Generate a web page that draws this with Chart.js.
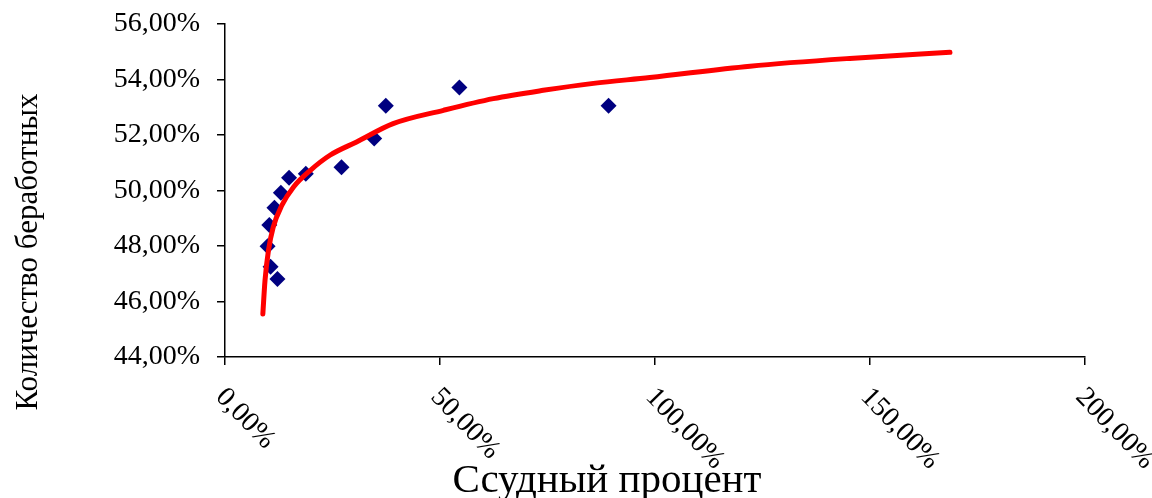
<!DOCTYPE html>
<html>
<head>
<meta charset="utf-8">
<script src="https://cdn.jsdelivr.net/npm/chart.js@4"></script>
<style>
  html, body { margin: 0; padding: 0; background: #fff; }
  #wrap { width: 1152px; height: 498px; }
</style>
</head>
<body>
<div id="wrap"><canvas id="chart"></canvas></div>
<script>
// Ссудный процент (x) и количество безработных (y), в процентах
const loanRate = [9.9, 10.3, 10.6, 11.5, 12.2, 13.0, 14.9, 18.8, 27.1, 34.7, 37.4, 54.5, 89.2];
const unemployed = [47.99, 48.76, 47.25, 49.38, 46.81, 49.92, 50.46, 50.60, 50.84, 51.87, 53.05, 53.71, 53.05];

// логарифмическая линия тренда
const trendX = [8.8, 9.3, 10.1, 11.2, 13.2, 15.9, 19.8, 24.4, 30.6, 39.1, 50.8, 62.4, 74.0, 85.7, 98.8, 122.1, 145.3, 168.6];
const trendY = [45.55, 46.75, 47.83, 48.67, 49.46, 50.12, 50.72, 51.27, 51.75, 52.41, 52.89, 53.31, 53.61, 53.86, 54.07, 54.48, 54.76, 54.98];

const xTicks = [0, 50, 100, 150, 200];
const yTicks = [44, 46, 48, 50, 52, 54, 56];

const xTitle = 'Ссудный процент';
const yTitle = 'Количество беработных';

const serif = '"Liberation Serif", "DejaVu Serif", serif';

function fmt(v) {
    return v.toFixed(2).replace('.', ',') + '%';
}

const scatterData = loanRate.map((x, i) => ({ x: x, y: unemployed[i] }));
const trendData = trendX.map((x, i) => ({ x: x, y: trendY[i] }));

// подписи оси X повернуты по часовой стрелке, рисуем сами
const labelsPlugin = {
    id: 'labelsPlugin',
    afterDraw(chart) {
        const ctx = chart.ctx;
        const xs = chart.scales.x;
        const area = chart.chartArea;
        ctx.save();
        ctx.fillStyle = '#000';
        ctx.font = '28px ' + serif;
        ctx.textAlign = 'left';
        ctx.textBaseline = 'top';
        xTicks.forEach(v => {
            const px = xs.getPixelForValue(v);
            ctx.save();
            ctx.translate(px + 5, area.bottom + 26);
            ctx.rotate(46 * Math.PI / 180);
            ctx.fillText(fmt(v), 0, 0);
            ctx.restore();
        });

        // заголовок оси X
        ctx.font = '41px ' + serif;
        ctx.textAlign = 'center';
        ctx.textBaseline = 'alphabetic';
        ctx.fillText(xTitle, 607, 492);

        // заголовок оси Y
        ctx.save();
        ctx.translate(37, 252);
        ctx.rotate(-Math.PI / 2);
        ctx.font = '31px ' + serif;
        ctx.fillText(yTitle, 0, 0);
        ctx.restore();
        ctx.restore();
    }
};

new Chart(document.getElementById('chart'), {
    type: 'scatter',
    data: {
        datasets: [{
            label: 'data',
            data: scatterData,
            pointStyle: 'rectRot',
            pointRadius: 8,
            pointHoverRadius: 8,
            backgroundColor: '#000080',
            borderColor: '#000080',
            borderWidth: 0,
            order: 2
        }, {
            type: 'line',
            label: 'trend',
            data: trendData,
            borderColor: '#ff0000',
            borderWidth: 5,
            pointRadius: 0,
            fill: false,
            cubicInterpolationMode: 'monotone',
            borderCapStyle: 'round',
            order: 1
        }]
    },
    options: {
        responsive: true,
        maintainAspectRatio: false,
        animation: false,
        layout: { padding: { top: 24, right: 67, bottom: 0, left: 0 } },
        plugins: {
            legend: { display: false },
            tooltip: { enabled: false }
        },
        scales: {
            x: {
                type: 'linear',
                min: 0,
                max: 200,
                afterBuildTicks(scale) {
                    scale.ticks = xTicks.map(v => ({ value: v }));
                },
                afterFit(scale) { scale.height = 141; },
                ticks: { display: false },
                border: { color: '#000', width: 1.5 },
                grid: { drawOnChartArea: false, drawTicks: true, tickLength: 8, color: '#000', lineWidth: 1.5 }
            },
            y: {
                min: 44,
                max: 56,
                afterBuildTicks(scale) {
                    scale.ticks = yTicks.map(v => ({ value: v }));
                },
                afterFit(scale) {
                    scale.width = 225;
                    scale.paddingTop = 0;
                    scale.paddingBottom = 0;
                },
                ticks: {
                    color: '#000',
                    font: { family: serif, size: 28 },
                    padding: 17,
                    callback: v => fmt(v)
                },
                border: { color: '#000', width: 1.5 },
                grid: { drawOnChartArea: false, drawTicks: true, tickLength: 8, color: '#000', lineWidth: 1.5 }
            }
        }
    },
    plugins: [labelsPlugin]
});
</script>
</body>
</html>
